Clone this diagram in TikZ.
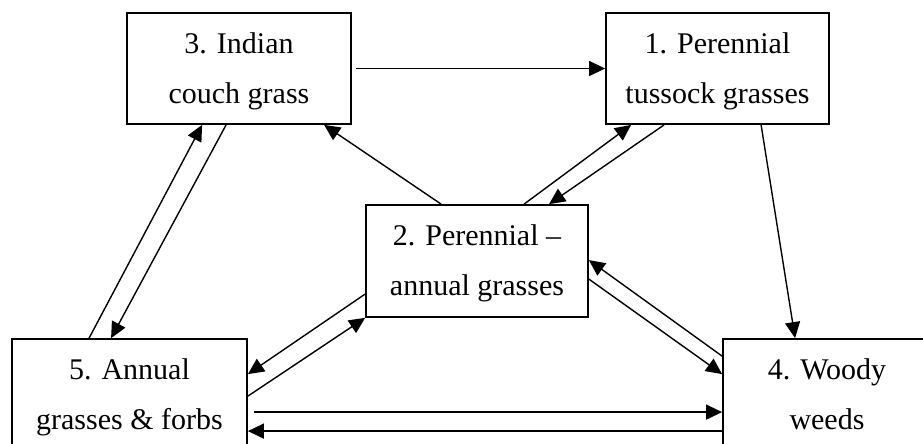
\documentclass[tikz,border=0pt]{standalone}
\usepackage{fontspec}
\setmainfont{Liberation Serif}
\usetikzlibrary{arrows.meta,calc}
\begin{document}
\begin{tikzpicture}[x=0.5pt,y=-0.5pt,
  box/.style={draw,line width=0.9pt,inner sep=0pt,align=center,
    font=\fontsize{15}{25}\selectfont},
  link/.style={line width=0.7pt,-{Triangle[length=8pt,width=7.5pt]}}]
\clip (0,0) rectangle (923,444);
\fill[white] (0,0) rectangle (923,444);

% vegetation states
\node[box,minimum width=112pt,minimum height=55.5pt] (b3) at (239,68.5)
  {\strut 3. Indian\\\strut couch grass};
\node[box,minimum width=111.5pt,minimum height=55.5pt] (b1) at (717.5,68.5)
  {\strut 1. Perennial\\\strut tussock grasses};
\node[box,minimum width=111pt,minimum height=56pt] (b2) at (477,261)
  {\strut 2. Perennial –\\\strut annual grasses};
\node[box,minimum width=117.5pt,minimum height=55.5pt] (b5) at (129.5,394.5)
  {\strut 5. Annual\\\strut grasses \& forbs};
\node[box,minimum width=104pt,minimum height=55.5pt] (b4) at (827,394.5)
  {\strut 4. Woody\\\strut weeds};

% transitions
\draw[link] ($(b3.east)+(4,0)$) -- (b1.west);
\draw[link] ($(b2.north west)+(76,0)$) -- ($(b3.south west)+(198,0)$);
\draw[link] ($(b2.north west)+(159,0)$) -- ($(b1.south west)+(26,0)$);
\draw[link] ($(b1.south west)+(59,0)$) -- ($(b2.north west)+(184,0)$);
\draw[link] ($(b1.south west)+(156,0)$) -- ($(b4.north west)+(73,0)$);
\draw[link] ($(b2.north east)+(0,75)$) -- ($(b4.north west)+(0,36)$);
\draw[link] ($(b4.north west)+(0,18)$) -- ($(b2.north east)+(0,56)$);
\draw[link] ($(b2.north west)+(0,90)$) -- ($(b5.north east)+(0,36)$);
\draw[link] ($(b5.north east)+(0,58)$) -- (b2.south west);
\draw[link] ($(b5.north west)+(78,0)$) -- ($(b3.south west)+(76,0)$);
\draw[link] ($(b3.south west)+(100,0)$) -- ($(b5.north west)+(100,0)$);
\draw[link] ($(b5.north east)+(6,74)$) -- ($(b4.north west)+(0,74)$);
\draw[link] ($(b4.north west)+(0,93)$) -- ($(b5.north east)+(0,93)$);
\end{tikzpicture}
\end{document}
